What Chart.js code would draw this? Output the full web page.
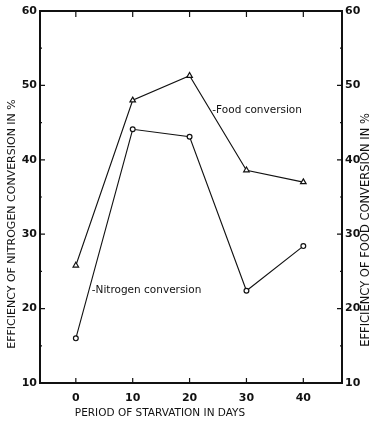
<!DOCTYPE html>
<html>
<head>
<meta charset="utf-8">
<script src="https://cdn.jsdelivr.net/npm/chart.js@4.4.1/dist/chart.umd.min.js"></script>
<style>
  html, body { margin: 0; padding: 0; background: #fff; }
  #wrap { width: 373px; height: 421px; }
</style>
</head>
<body>
<div id="wrap"><canvas id="chart" width="373" height="421"></canvas></div>
<script>
const days = [0, 10, 20, 30, 40];
const foodConversion = [25.8, 48, 51.3, 38.6, 37];
const nitrogenConversion = [16, 44.1, 43.1, 22.4, 28.4];
const xTicks = [0, 10, 20, 30, 40];
const yTicks = [10, 20, 30, 40, 50, 60];
const yMinorTicks = [15, 25, 35, 45, 55];

const ink = '#111';
const textFont = '10.5px "DejaVu Sans", sans-serif';

// inward ticks, titles and line labels
const paperPlugin = {
  id: 'paper',
  afterDraw(chart) {
    const { ctx, chartArea, scales } = chart;
    const { left, right, top, bottom } = chartArea;
    ctx.save();
    ctx.strokeStyle = ink;
    ctx.fillStyle = ink;

    ctx.lineWidth = 2;
    ctx.strokeRect(left, top, right - left, bottom - top);

    ctx.lineWidth = 1.2;
    ctx.beginPath();
    xTicks.forEach((v) => {
      const px = scales.x.getPixelForValue(v);
      ctx.moveTo(px, top); ctx.lineTo(px, top + 6);
      ctx.moveTo(px, bottom); ctx.lineTo(px, bottom - 5);
    });
    yTicks.forEach((v) => {
      const py = scales.y.getPixelForValue(v);
      ctx.moveTo(left, py); ctx.lineTo(left + 5, py);
      ctx.moveTo(right, py); ctx.lineTo(right - 5, py);
    });
    yMinorTicks.forEach((v) => {
      const py = scales.y.getPixelForValue(v);
      ctx.moveTo(left, py); ctx.lineTo(left + 2, py);
      ctx.moveTo(right, py); ctx.lineTo(right - 2, py);
    });
    ctx.stroke();

    ctx.font = textFont;
    ctx.textBaseline = 'middle';
    ctx.textAlign = 'left';
    ctx.fillText('-Food conversion', scales.x.getPixelForValue(24), scales.y.getPixelForValue(46.7));
    ctx.fillText('-Nitrogen conversion', scales.x.getPixelForValue(2.8), scales.y.getPixelForValue(22.5));

    ctx.textAlign = 'center';
    ctx.fillText('PERIOD OF STARVATION IN DAYS', 160, 413);

    ctx.font = '11px "DejaVu Sans", sans-serif';
    ctx.translate(12, 224);
    ctx.rotate(-Math.PI / 2);
    ctx.fillText('EFFICIENCY OF NITROGEN CONVERSION IN %', 0, 0);
    ctx.restore();

    ctx.save();
    ctx.fillStyle = ink;
    ctx.font = '11.5px "DejaVu Sans", sans-serif';
    ctx.textAlign = 'center';
    ctx.textBaseline = 'middle';
    ctx.translate(366, 230);
    ctx.rotate(-Math.PI / 2);
    ctx.fillText('EFFICIENCY OF FOOD CONVERSION IN %', 0, 0);
    ctx.restore();
  }
};

new Chart(document.getElementById('chart'), {
  type: 'scatter',
  data: {
    datasets: [
      {
        label: 'Food conversion',
        data: days.map((d, i) => ({ x: d, y: foodConversion[i] })),
        showLine: true,
        borderColor: ink,
        borderWidth: 1.1,
        pointStyle: 'triangle',
        pointRadius: 3.2,
        pointBorderWidth: 1.2,
        pointBackgroundColor: '#fff',
        pointBorderColor: ink,
        tension: 0
      },
      {
        label: 'Nitrogen conversion',
        data: days.map((d, i) => ({ x: d, y: nitrogenConversion[i] })),
        showLine: true,
        borderColor: ink,
        borderWidth: 1.1,
        pointStyle: 'circle',
        pointRadius: 2.4,
        pointBorderWidth: 1.2,
        pointBackgroundColor: '#fff',
        pointBorderColor: ink,
        tension: 0
      }
    ]
  },
  options: {
    responsive: false,
    animation: false,
    layout: { padding: { top: 11, left: 0, right: 0, bottom: 0 } },
    plugins: {
      legend: { display: false },
      tooltip: { enabled: false }
    },
    scales: {
      x: {
        type: 'linear',
        min: -6.3,
        max: 46.8,
        afterBuildTicks: (axis) => { axis.ticks = xTicks.map((v) => ({ value: v })); },
        afterFit: (axis) => { axis.height = 38; },
        grid: { display: false, drawTicks: false },
        border: { display: false },
        ticks: { color: ink, font: { family: '"DejaVu Sans", sans-serif', size: 11, weight: 'bold' }, padding: 9, maxRotation: 0 }
      },
      y: {
        min: 10,
        max: 60,
        afterBuildTicks: (axis) => { axis.ticks = yTicks.map((v) => ({ value: v })); },
        afterFit: (axis) => { axis.width = 40; },
        grid: { display: false, drawTicks: false },
        border: { display: false },
        ticks: { color: ink, font: { family: '"DejaVu Sans", sans-serif', size: 11, weight: 'bold' }, padding: 3 }
      },
      y2: {
        position: 'right',
        min: 10,
        max: 60,
        afterBuildTicks: (axis) => { axis.ticks = yTicks.map((v) => ({ value: v })); },
        afterFit: (axis) => { axis.width = 31; },
        grid: { display: false, drawTicks: false },
        border: { display: false },
        ticks: { color: ink, font: { family: '"DejaVu Sans", sans-serif', size: 11, weight: 'bold' }, padding: 3 }
      }
    }
  },
  plugins: [paperPlugin]
});
</script>
</body>
</html>
